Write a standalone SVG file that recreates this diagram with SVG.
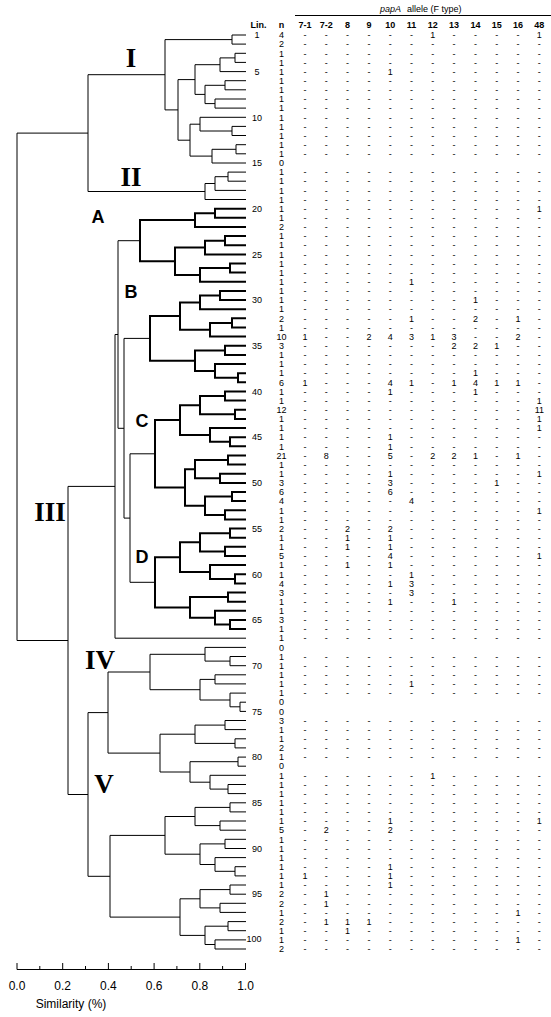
<svg xmlns="http://www.w3.org/2000/svg" width="551" height="1017" viewBox="0 0 551 1017">
<style>
.t{font-family:"Liberation Sans",Arial,sans-serif;font-size:9px;fill:#000}
.c{text-anchor:middle}
.h{font-weight:bold}
.rn{font-family:"Liberation Serif","Times New Roman",serif;font-weight:bold;font-size:27px;fill:#000;text-anchor:middle}
.lt{font-family:"Liberation Sans",Arial,sans-serif;font-weight:bold;font-size:18px;fill:#000;text-anchor:middle}
.ln{stroke:#000;stroke-width:1;fill:none}
.bl{stroke:#000;stroke-width:2;fill:none}
.ax{font-family:"Liberation Sans",Arial,sans-serif;font-size:12px;fill:#000;text-anchor:middle}
</style>
<rect width="551" height="1017" fill="#fff"/>
<g id="connectors">
<path class="ln" d="M246,35H232V44.1H246 M246,53.3H235V62.4H246 M235,57.9H220V71.6H246 M246,80.7H225V89.8H246 M246,99H215V108.1H246 M225,85.3H205V103.6H215 M220,64.7H195V94.4H205 M246,126.4H232V135.5H246 M246,117.3H200V131H232 M246,144.7H236V153.8H246 M236,149.3H212V163H246 M200,124.2H190V156.1H212 M195,79.6H178V140.2H190 M232,39.6H165V109.9H178"/>
<path class="ln" d="M246,172.1H228V181.2H246 M228,176.7H215V190.4H246 M215,183.5H205V199.5H246 M165,74.7H88V191.5H205"/>
<path class="bl" d="M246,208.7H215V217.8H246 M215,213.3H195V226.9H246 M246,236.1H225V245.2H246 M225,240.7H205V254.4H246 M246,263.5H230V272.6H246 M230,268.1H200V281.8H246 M205,247.5H175V275H200 M195,220.1H140V261.3H175"/>
<path class="bl" d="M246,290.9H220V300.1H246 M220,295.5H200V309.2H246 M246,318.3H232V327.5H246 M232,322.9H210V336.6H246 M200,302.4H180V329.8H210 M246,345.8H225V354.9H246 M246,373.2H238V382.3H246 M246,364H215V377.8H238 M225,350.4H195V370.9H215 M180,316.1H150V360.7H195"/>
<path class="bl" d="M246,391.5H225V400.6H246 M246,409.7H235V418.9H246 M225,396.1H200V414.3H235 M246,437.2H230V446.3H246 M246,428H210V441.8H230 M200,405.2H180V434.9H210 M246,455.4H228V464.6H246 M246,473.7H220V482.9H246 M228,460H195V478.3H220 M246,492H232V501.1H246 M246,510.3H225V519.4H246 M232,496.6H205V514.9H225 M195,469.2H185V505.7H205 M180,420.1H155V487.5H185"/>
<path class="bl" d="M246,528.6H230V537.7H246 M246,546.8H225V556H246 M230,533.2H200V551.4H225 M246,574.3H235V583.4H246 M246,565.1H210V578.9H235 M200,542.3H180V572H210 M246,592.5H228V601.7H246 M246,620H230V629.1H246 M246,610.8H215V624.6H230 M228,597.1H190V617.7H215 M180,557.2H155V607.4H190"/>
<path class="ln" d="M155,453.8H130V582.3H155 M150,338.4H124V518.1H130 M140,240.7H118V428.3H124 M118,334.5H115V638.2H246"/>
<path class="ln" d="M246,656.5H230V665.7H246 M246,647.4H205V661.1H230 M246,674.8H215V683.9H246 M246,702.2H240V711.4H246 M246,693.1H230V706.8H240 M215,679.4H200V700H230 M205,654.3H150V689.7H200 M246,720.5H225V729.6H246 M246,738.8H235V747.9H246 M225,725.1H195V743.4H235 M246,757.1H238V766.2H246 M246,784.5H228V793.6H246 M246,775.3H210V789.1H228 M238,761.7H190V782.2H210 M195,734.2H160V772H190 M150,672H108V753.1H160"/>
<path class="ln" d="M246,802.8H230V811.9H246 M246,821H220V830.2H246 M230,807.4H195V825.6H220 M246,839.3H225V848.5H246 M246,866.7H235V875.9H246 M246,857.6H215V871.3H235 M225,843.9H200V864.5H215 M195,816.5H165V854.2H200 M246,885H230V894.2H246 M246,903.3H220V912.4H246 M230,889.6H200V907.9H220 M246,921.6H228V930.7H246 M246,939.9H215V949H246 M228,926.2H205V944.5H215 M200,898.8H180V935.4H205 M165,835.4H110V917.1H180"/>
<path class="ln" d="M108,712.6H88V876.3H110 M115,486.4H68V794.5H88 M88,133.1H17V640.5H68"/>
</g>
<g id="cluster-labels">
<text class="rn" x="131" y="67">I</text>
<text class="rn" x="131" y="186">II</text>
<text class="lt" x="98" y="223">A</text>
<text class="lt" x="131" y="298">B</text>
<text class="lt" x="142" y="427">C</text>
<text class="rn" x="50" y="521">III</text>
<text class="lt" x="142" y="563">D</text>
<text class="rn" x="100" y="669">IV</text>
<text class="rn" x="104" y="793">V</text>
</g>
<g id="axis">
<path class="ln" d="M17,969.5H245.5 M17,963V969.5 M62.7,963V969.5 M108.4,963V969.5 M154.1,963V969.5 M199.8,963V969.5 M245.5,963V969.5 M39.8,966V969.5 M85.5,966V969.5 M131.2,966V969.5 M176.9,966V969.5 M222.6,966V969.5"/>
<text class="ax" x="17" y="990">0.0</text>
<text class="ax" x="62.7" y="990">0.2</text>
<text class="ax" x="108.4" y="990">0.4</text>
<text class="ax" x="154.1" y="990">0.6</text>
<text class="ax" x="199.8" y="990">0.8</text>
<text class="ax" x="245.5" y="990">1.0</text>
<text class="ax" x="71" y="1008" font-size="13.5">Similarity (%)</text>
</g>
<g id="table-header">
<text class="t" x="380" y="12" font-style="italic">papA</text>
<text class="t" x="407" y="12">allele (F type)</text>
<line class="ln" x1="295" y1="15.5" x2="551" y2="15.5"/>
<text class="t h c" x="258.5" y="28" font-size="9.5">Lin.</text>
<text class="t h c" x="281.5" y="28" font-size="9.5">n</text>
<text class="t h c" x="305" y="28">7-1</text>
<text class="t h c" x="326.3" y="28">7-2</text>
<text class="t h c" x="347.6" y="28">8</text>
<text class="t h c" x="368.9" y="28">9</text>
<text class="t h c" x="390.2" y="28">10</text>
<text class="t h c" x="411.5" y="28">11</text>
<text class="t h c" x="432.8" y="28">12</text>
<text class="t h c" x="454.1" y="28">13</text>
<text class="t h c" x="475.4" y="28">14</text>
<text class="t h c" x="496.7" y="28">15</text>
<text class="t h c" x="518" y="28">16</text>
<text class="t h c" x="539.3" y="28">48</text>
</g>
<g id="lineage-numbers">
<text class="t c" x="257" y="38.2">1</text>
<text class="t c" x="257" y="74.8">5</text>
<text class="t c" x="257" y="120.5">10</text>
<text class="t c" x="257" y="166.2">15</text>
<text class="t c" x="257" y="211.9">20</text>
<text class="t c" x="257" y="257.6">25</text>
<text class="t c" x="257" y="303.3">30</text>
<text class="t c" x="257" y="349">35</text>
<text class="t c" x="257" y="394.7">40</text>
<text class="t c" x="257" y="440.4">45</text>
<text class="t c" x="257" y="486.1">50</text>
<text class="t c" x="257" y="531.8">55</text>
<text class="t c" x="257" y="577.5">60</text>
<text class="t c" x="257" y="623.2">65</text>
<text class="t c" x="257" y="668.9">70</text>
<text class="t c" x="257" y="714.6">75</text>
<text class="t c" x="257" y="760.3">80</text>
<text class="t c" x="257" y="806">85</text>
<text class="t c" x="257" y="851.7">90</text>
<text class="t c" x="257" y="897.4">95</text>
<text class="t c" x="254" y="941.5" font-size="7.5">100</text>
</g>
<g id="n-column">
<text class="t c" x="281.5" y="38.2">4</text>
<text class="t c" x="281.5" y="47.3">2</text>
<text class="t c" x="281.5" y="56.5">1</text>
<text class="t c" x="281.5" y="65.6">1</text>
<text class="t c" x="281.5" y="74.8">1</text>
<text class="t c" x="281.5" y="83.9">1</text>
<text class="t c" x="281.5" y="93">1</text>
<text class="t c" x="281.5" y="102.2">1</text>
<text class="t c" x="281.5" y="111.3">1</text>
<text class="t c" x="281.5" y="120.5">1</text>
<text class="t c" x="281.5" y="129.6">1</text>
<text class="t c" x="281.5" y="138.7">1</text>
<text class="t c" x="281.5" y="147.9">1</text>
<text class="t c" x="281.5" y="157">1</text>
<text class="t c" x="281.5" y="166.2">0</text>
<text class="t c" x="281.5" y="175.3">1</text>
<text class="t c" x="281.5" y="184.4">1</text>
<text class="t c" x="281.5" y="193.6">1</text>
<text class="t c" x="281.5" y="202.7">1</text>
<text class="t c" x="281.5" y="211.9">1</text>
<text class="t c" x="281.5" y="221">1</text>
<text class="t c" x="281.5" y="230.1">2</text>
<text class="t c" x="281.5" y="239.3">1</text>
<text class="t c" x="281.5" y="248.4">1</text>
<text class="t c" x="281.5" y="257.6">1</text>
<text class="t c" x="281.5" y="266.7">1</text>
<text class="t c" x="281.5" y="275.8">1</text>
<text class="t c" x="281.5" y="285">1</text>
<text class="t c" x="281.5" y="294.1">1</text>
<text class="t c" x="281.5" y="303.3">1</text>
<text class="t c" x="281.5" y="312.4">1</text>
<text class="t c" x="281.5" y="321.5">2</text>
<text class="t c" x="281.5" y="330.7">1</text>
<text class="t c" x="281.5" y="339.8">10</text>
<text class="t c" x="281.5" y="349">3</text>
<text class="t c" x="281.5" y="358.1">1</text>
<text class="t c" x="281.5" y="367.2">1</text>
<text class="t c" x="281.5" y="376.4">1</text>
<text class="t c" x="281.5" y="385.5">6</text>
<text class="t c" x="281.5" y="394.7">1</text>
<text class="t c" x="281.5" y="403.8">1</text>
<text class="t c" x="281.5" y="412.9">12</text>
<text class="t c" x="281.5" y="422.1">1</text>
<text class="t c" x="281.5" y="431.2">1</text>
<text class="t c" x="281.5" y="440.4">1</text>
<text class="t c" x="281.5" y="449.5">1</text>
<text class="t c" x="281.5" y="458.6">21</text>
<text class="t c" x="281.5" y="467.8">1</text>
<text class="t c" x="281.5" y="476.9">1</text>
<text class="t c" x="281.5" y="486.1">3</text>
<text class="t c" x="281.5" y="495.2">6</text>
<text class="t c" x="281.5" y="504.3">4</text>
<text class="t c" x="281.5" y="513.5">1</text>
<text class="t c" x="281.5" y="522.6">1</text>
<text class="t c" x="281.5" y="531.8">2</text>
<text class="t c" x="281.5" y="540.9">1</text>
<text class="t c" x="281.5" y="550">1</text>
<text class="t c" x="281.5" y="559.2">5</text>
<text class="t c" x="281.5" y="568.3">1</text>
<text class="t c" x="281.5" y="577.5">1</text>
<text class="t c" x="281.5" y="586.6">4</text>
<text class="t c" x="281.5" y="595.7">3</text>
<text class="t c" x="281.5" y="604.9">1</text>
<text class="t c" x="281.5" y="614">1</text>
<text class="t c" x="281.5" y="623.2">3</text>
<text class="t c" x="281.5" y="632.3">1</text>
<text class="t c" x="281.5" y="641.4">1</text>
<text class="t c" x="281.5" y="650.6">0</text>
<text class="t c" x="281.5" y="659.7">1</text>
<text class="t c" x="281.5" y="668.9">1</text>
<text class="t c" x="281.5" y="678">1</text>
<text class="t c" x="281.5" y="687.1">1</text>
<text class="t c" x="281.5" y="696.3">1</text>
<text class="t c" x="281.5" y="705.4">0</text>
<text class="t c" x="281.5" y="714.6">0</text>
<text class="t c" x="281.5" y="723.7">3</text>
<text class="t c" x="281.5" y="732.8">1</text>
<text class="t c" x="281.5" y="742">1</text>
<text class="t c" x="281.5" y="751.1">2</text>
<text class="t c" x="281.5" y="760.3">1</text>
<text class="t c" x="281.5" y="769.4">0</text>
<text class="t c" x="281.5" y="778.5">1</text>
<text class="t c" x="281.5" y="787.7">1</text>
<text class="t c" x="281.5" y="796.8">1</text>
<text class="t c" x="281.5" y="806">1</text>
<text class="t c" x="281.5" y="815.1">1</text>
<text class="t c" x="281.5" y="824.2">1</text>
<text class="t c" x="281.5" y="833.4">5</text>
<text class="t c" x="281.5" y="842.5">1</text>
<text class="t c" x="281.5" y="851.7">1</text>
<text class="t c" x="281.5" y="860.8">1</text>
<text class="t c" x="281.5" y="869.9">1</text>
<text class="t c" x="281.5" y="879.1">1</text>
<text class="t c" x="281.5" y="888.2">1</text>
<text class="t c" x="281.5" y="897.4">2</text>
<text class="t c" x="281.5" y="906.5">2</text>
<text class="t c" x="281.5" y="915.6">1</text>
<text class="t c" x="281.5" y="924.8">2</text>
<text class="t c" x="281.5" y="933.9">1</text>
<text class="t c" x="281.5" y="943.1">1</text>
<text class="t c" x="281.5" y="952.2">2</text>
</g>
<g id="allele-rows">
<text class="t c" x="305 326.3 347.6 368.9 390.2 411.5 432.8 454.1 475.4 496.7 518 539.3" y="38.2">------1----1</text>
<text class="t c" x="305 326.3 347.6 368.9 390.2 411.5 432.8 454.1 475.4 496.7 518 539.3" y="47.3">------------</text>
<text class="t c" x="305 326.3 347.6 368.9 390.2 411.5 432.8 454.1 475.4 496.7 518 539.3" y="56.5">------------</text>
<text class="t c" x="305 326.3 347.6 368.9 390.2 411.5 432.8 454.1 475.4 496.7 518 539.3" y="65.6">------------</text>
<text class="t c" x="305 326.3 347.6 368.9 390.2 411.5 432.8 454.1 475.4 496.7 518 539.3" y="74.8">----1-------</text>
<text class="t c" x="305 326.3 347.6 368.9 390.2 411.5 432.8 454.1 475.4 496.7 518 539.3" y="83.9">------------</text>
<text class="t c" x="305 326.3 347.6 368.9 390.2 411.5 432.8 454.1 475.4 496.7 518 539.3" y="93">------------</text>
<text class="t c" x="305 326.3 347.6 368.9 390.2 411.5 432.8 454.1 475.4 496.7 518 539.3" y="102.2">------------</text>
<text class="t c" x="305 326.3 347.6 368.9 390.2 411.5 432.8 454.1 475.4 496.7 518 539.3" y="111.3">------------</text>
<text class="t c" x="305 326.3 347.6 368.9 390.2 411.5 432.8 454.1 475.4 496.7 518 539.3" y="120.5">------------</text>
<text class="t c" x="305 326.3 347.6 368.9 390.2 411.5 432.8 454.1 475.4 496.7 518 539.3" y="129.6">------------</text>
<text class="t c" x="305 326.3 347.6 368.9 390.2 411.5 432.8 454.1 475.4 496.7 518 539.3" y="138.7">------------</text>
<text class="t c" x="305 326.3 347.6 368.9 390.2 411.5 432.8 454.1 475.4 496.7 518 539.3" y="147.9">------------</text>
<text class="t c" x="305 326.3 347.6 368.9 390.2 411.5 432.8 454.1 475.4 496.7 518 539.3" y="157">------------</text>
<text class="t c" x="305 326.3 347.6 368.9 390.2 411.5 432.8 454.1 475.4 496.7 518 539.3" y="175.3">------------</text>
<text class="t c" x="305 326.3 347.6 368.9 390.2 411.5 432.8 454.1 475.4 496.7 518 539.3" y="184.4">------------</text>
<text class="t c" x="305 326.3 347.6 368.9 390.2 411.5 432.8 454.1 475.4 496.7 518 539.3" y="193.6">------------</text>
<text class="t c" x="305 326.3 347.6 368.9 390.2 411.5 432.8 454.1 475.4 496.7 518 539.3" y="202.7">------------</text>
<text class="t c" x="305 326.3 347.6 368.9 390.2 411.5 432.8 454.1 475.4 496.7 518 539.3" y="211.9">-----------1</text>
<text class="t c" x="305 326.3 347.6 368.9 390.2 411.5 432.8 454.1 475.4 496.7 518 539.3" y="221">------------</text>
<text class="t c" x="305 326.3 347.6 368.9 390.2 411.5 432.8 454.1 475.4 496.7 518 539.3" y="230.1">------------</text>
<text class="t c" x="305 326.3 347.6 368.9 390.2 411.5 432.8 454.1 475.4 496.7 518 539.3" y="239.3">------------</text>
<text class="t c" x="305 326.3 347.6 368.9 390.2 411.5 432.8 454.1 475.4 496.7 518 539.3" y="248.4">------------</text>
<text class="t c" x="305 326.3 347.6 368.9 390.2 411.5 432.8 454.1 475.4 496.7 518 539.3" y="257.6">------------</text>
<text class="t c" x="305 326.3 347.6 368.9 390.2 411.5 432.8 454.1 475.4 496.7 518 539.3" y="266.7">------------</text>
<text class="t c" x="305 326.3 347.6 368.9 390.2 411.5 432.8 454.1 475.4 496.7 518 539.3" y="275.8">------------</text>
<text class="t c" x="305 326.3 347.6 368.9 390.2 411.5 432.8 454.1 475.4 496.7 518 539.3" y="285">-----1------</text>
<text class="t c" x="305 326.3 347.6 368.9 390.2 411.5 432.8 454.1 475.4 496.7 518 539.3" y="294.1">------------</text>
<text class="t c" x="305 326.3 347.6 368.9 390.2 411.5 432.8 454.1 475.4 496.7 518 539.3" y="303.3">--------1---</text>
<text class="t c" x="305 326.3 347.6 368.9 390.2 411.5 432.8 454.1 475.4 496.7 518 539.3" y="312.4">------------</text>
<text class="t c" x="305 326.3 347.6 368.9 390.2 411.5 432.8 454.1 475.4 496.7 518 539.3" y="321.5">-----1--2-1-</text>
<text class="t c" x="305 326.3 347.6 368.9 390.2 411.5 432.8 454.1 475.4 496.7 518 539.3" y="330.7">------------</text>
<text class="t c" x="305 326.3 347.6 368.9 390.2 411.5 432.8 454.1 475.4 496.7 518 539.3" y="339.8">1--24313--2-</text>
<text class="t c" x="305 326.3 347.6 368.9 390.2 411.5 432.8 454.1 475.4 496.7 518 539.3" y="349">-------221--</text>
<text class="t c" x="305 326.3 347.6 368.9 390.2 411.5 432.8 454.1 475.4 496.7 518 539.3" y="358.1">------------</text>
<text class="t c" x="305 326.3 347.6 368.9 390.2 411.5 432.8 454.1 475.4 496.7 518 539.3" y="367.2">------------</text>
<text class="t c" x="305 326.3 347.6 368.9 390.2 411.5 432.8 454.1 475.4 496.7 518 539.3" y="376.4">--------1---</text>
<text class="t c" x="305 326.3 347.6 368.9 390.2 411.5 432.8 454.1 475.4 496.7 518 539.3" y="385.5">1---41-1411-</text>
<text class="t c" x="305 326.3 347.6 368.9 390.2 411.5 432.8 454.1 475.4 496.7 518 539.3" y="394.7">----1---1---</text>
<text class="t c" x="305 326.3 347.6 368.9 390.2 411.5 432.8 454.1 475.4 496.7 518 539.3" y="403.8">-----------1</text>
<text class="t c" x="305 326.3 347.6 368.9 390.2 411.5 432.8 454.1 475.4 496.7 518" y="412.9">-----------</text>
<text class="t c" x="539.3" y="412.9">11</text>
<text class="t c" x="305 326.3 347.6 368.9 390.2 411.5 432.8 454.1 475.4 496.7 518 539.3" y="422.1">-----------1</text>
<text class="t c" x="305 326.3 347.6 368.9 390.2 411.5 432.8 454.1 475.4 496.7 518 539.3" y="431.2">-----------1</text>
<text class="t c" x="305 326.3 347.6 368.9 390.2 411.5 432.8 454.1 475.4 496.7 518 539.3" y="440.4">----1-------</text>
<text class="t c" x="305 326.3 347.6 368.9 390.2 411.5 432.8 454.1 475.4 496.7 518 539.3" y="449.5">----1-------</text>
<text class="t c" x="305 326.3 347.6 368.9 390.2 411.5 432.8 454.1 475.4 496.7 518 539.3" y="458.6">-8--5-221-1-</text>
<text class="t c" x="305 326.3 347.6 368.9 390.2 411.5 432.8 454.1 475.4 496.7 518 539.3" y="467.8">------------</text>
<text class="t c" x="305 326.3 347.6 368.9 390.2 411.5 432.8 454.1 475.4 496.7 518 539.3" y="476.9">----1------1</text>
<text class="t c" x="305 326.3 347.6 368.9 390.2 411.5 432.8 454.1 475.4 496.7 518 539.3" y="486.1">----3----1--</text>
<text class="t c" x="305 326.3 347.6 368.9 390.2 411.5 432.8 454.1 475.4 496.7 518 539.3" y="495.2">----6-------</text>
<text class="t c" x="305 326.3 347.6 368.9 390.2 411.5 432.8 454.1 475.4 496.7 518 539.3" y="504.3">-----4------</text>
<text class="t c" x="305 326.3 347.6 368.9 390.2 411.5 432.8 454.1 475.4 496.7 518 539.3" y="513.5">-----------1</text>
<text class="t c" x="305 326.3 347.6 368.9 390.2 411.5 432.8 454.1 475.4 496.7 518 539.3" y="522.6">------------</text>
<text class="t c" x="305 326.3 347.6 368.9 390.2 411.5 432.8 454.1 475.4 496.7 518 539.3" y="531.8">--2-2-------</text>
<text class="t c" x="305 326.3 347.6 368.9 390.2 411.5 432.8 454.1 475.4 496.7 518 539.3" y="540.9">--1-1-------</text>
<text class="t c" x="305 326.3 347.6 368.9 390.2 411.5 432.8 454.1 475.4 496.7 518 539.3" y="550">--1-1-------</text>
<text class="t c" x="305 326.3 347.6 368.9 390.2 411.5 432.8 454.1 475.4 496.7 518 539.3" y="559.2">----4------1</text>
<text class="t c" x="305 326.3 347.6 368.9 390.2 411.5 432.8 454.1 475.4 496.7 518 539.3" y="568.3">--1-1-------</text>
<text class="t c" x="305 326.3 347.6 368.9 390.2 411.5 432.8 454.1 475.4 496.7 518 539.3" y="577.5">-----1------</text>
<text class="t c" x="305 326.3 347.6 368.9 390.2 411.5 432.8 454.1 475.4 496.7 518 539.3" y="586.6">----13------</text>
<text class="t c" x="305 326.3 347.6 368.9 390.2 411.5 432.8 454.1 475.4 496.7 518 539.3" y="595.7">-----3------</text>
<text class="t c" x="305 326.3 347.6 368.9 390.2 411.5 432.8 454.1 475.4 496.7 518 539.3" y="604.9">----1--1----</text>
<text class="t c" x="305 326.3 347.6 368.9 390.2 411.5 432.8 454.1 475.4 496.7 518 539.3" y="614">------------</text>
<text class="t c" x="305 326.3 347.6 368.9 390.2 411.5 432.8 454.1 475.4 496.7 518 539.3" y="623.2">------------</text>
<text class="t c" x="305 326.3 347.6 368.9 390.2 411.5 432.8 454.1 475.4 496.7 518 539.3" y="632.3">------------</text>
<text class="t c" x="305 326.3 347.6 368.9 390.2 411.5 432.8 454.1 475.4 496.7 518 539.3" y="641.4">------------</text>
<text class="t c" x="305 326.3 347.6 368.9 390.2 411.5 432.8 454.1 475.4 496.7 518 539.3" y="659.7">------------</text>
<text class="t c" x="305 326.3 347.6 368.9 390.2 411.5 432.8 454.1 475.4 496.7 518 539.3" y="668.9">------------</text>
<text class="t c" x="305 326.3 347.6 368.9 390.2 411.5 432.8 454.1 475.4 496.7 518 539.3" y="678">------------</text>
<text class="t c" x="305 326.3 347.6 368.9 390.2 411.5 432.8 454.1 475.4 496.7 518 539.3" y="687.1">-----1------</text>
<text class="t c" x="305 326.3 347.6 368.9 390.2 411.5 432.8 454.1 475.4 496.7 518 539.3" y="696.3">------------</text>
<text class="t c" x="305 326.3 347.6 368.9 390.2 411.5 432.8 454.1 475.4 496.7 518 539.3" y="723.7">------------</text>
<text class="t c" x="305 326.3 347.6 368.9 390.2 411.5 432.8 454.1 475.4 496.7 518 539.3" y="732.8">------------</text>
<text class="t c" x="305 326.3 347.6 368.9 390.2 411.5 432.8 454.1 475.4 496.7 518 539.3" y="742">------------</text>
<text class="t c" x="305 326.3 347.6 368.9 390.2 411.5 432.8 454.1 475.4 496.7 518 539.3" y="751.1">------------</text>
<text class="t c" x="305 326.3 347.6 368.9 390.2 411.5 432.8 454.1 475.4 496.7 518 539.3" y="760.3">------------</text>
<text class="t c" x="305 326.3 347.6 368.9 390.2 411.5 432.8 454.1 475.4 496.7 518 539.3" y="778.5">------1-----</text>
<text class="t c" x="305 326.3 347.6 368.9 390.2 411.5 432.8 454.1 475.4 496.7 518 539.3" y="787.7">------------</text>
<text class="t c" x="305 326.3 347.6 368.9 390.2 411.5 432.8 454.1 475.4 496.7 518 539.3" y="796.8">------------</text>
<text class="t c" x="305 326.3 347.6 368.9 390.2 411.5 432.8 454.1 475.4 496.7 518 539.3" y="806">------------</text>
<text class="t c" x="305 326.3 347.6 368.9 390.2 411.5 432.8 454.1 475.4 496.7 518 539.3" y="815.1">------------</text>
<text class="t c" x="305 326.3 347.6 368.9 390.2 411.5 432.8 454.1 475.4 496.7 518 539.3" y="824.2">----1------1</text>
<text class="t c" x="305 326.3 347.6 368.9 390.2 411.5 432.8 454.1 475.4 496.7 518 539.3" y="833.4">-2--2-------</text>
<text class="t c" x="305 326.3 347.6 368.9 390.2 411.5 432.8 454.1 475.4 496.7 518 539.3" y="842.5">------------</text>
<text class="t c" x="305 326.3 347.6 368.9 390.2 411.5 432.8 454.1 475.4 496.7 518 539.3" y="851.7">------------</text>
<text class="t c" x="305 326.3 347.6 368.9 390.2 411.5 432.8 454.1 475.4 496.7 518 539.3" y="860.8">------------</text>
<text class="t c" x="305 326.3 347.6 368.9 390.2 411.5 432.8 454.1 475.4 496.7 518 539.3" y="869.9">----1-------</text>
<text class="t c" x="305 326.3 347.6 368.9 390.2 411.5 432.8 454.1 475.4 496.7 518 539.3" y="879.1">1---1-------</text>
<text class="t c" x="305 326.3 347.6 368.9 390.2 411.5 432.8 454.1 475.4 496.7 518 539.3" y="888.2">----1-------</text>
<text class="t c" x="305 326.3 347.6 368.9 390.2 411.5 432.8 454.1 475.4 496.7 518 539.3" y="897.4">-1----------</text>
<text class="t c" x="305 326.3 347.6 368.9 390.2 411.5 432.8 454.1 475.4 496.7 518 539.3" y="906.5">-1----------</text>
<text class="t c" x="305 326.3 347.6 368.9 390.2 411.5 432.8 454.1 475.4 496.7 518 539.3" y="915.6">----------1-</text>
<text class="t c" x="305 326.3 347.6 368.9 390.2 411.5 432.8 454.1 475.4 496.7 518 539.3" y="924.8">-111--------</text>
<text class="t c" x="305 326.3 347.6 368.9 390.2 411.5 432.8 454.1 475.4 496.7 518 539.3" y="933.9">--1---------</text>
<text class="t c" x="305 326.3 347.6 368.9 390.2 411.5 432.8 454.1 475.4 496.7 518 539.3" y="943.1">----------1-</text>
<text class="t c" x="305 326.3 347.6 368.9 390.2 411.5 432.8 454.1 475.4 496.7 518 539.3" y="952.2">------------</text>
</g>
</svg>
